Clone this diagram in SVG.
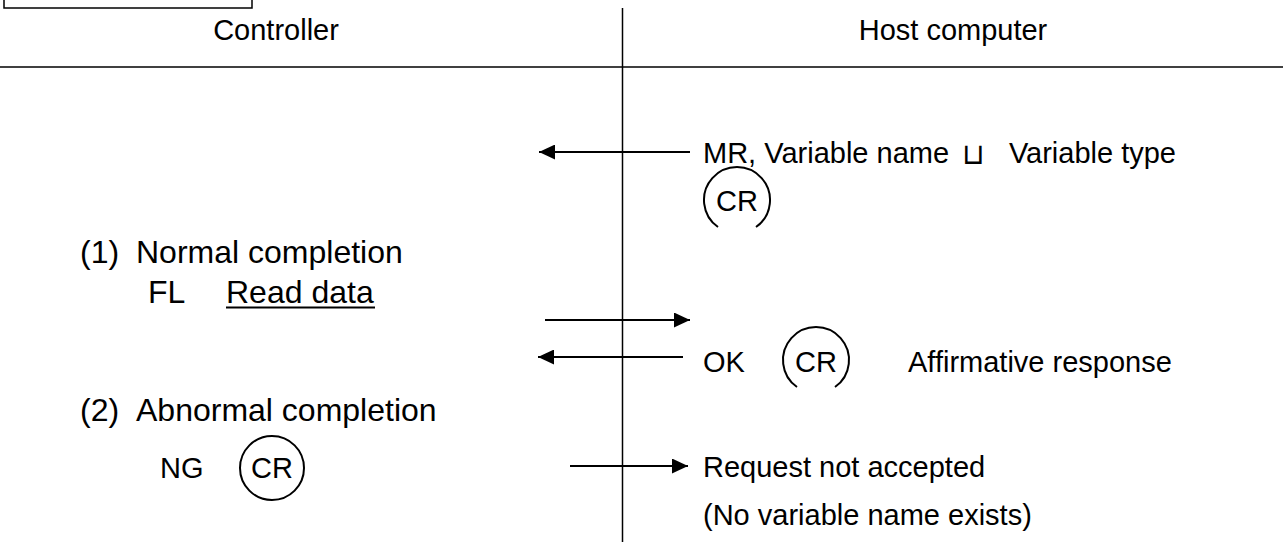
<svg xmlns="http://www.w3.org/2000/svg" width="1283" height="542" viewBox="0 0 1283 542">
<style>
text{font-family:"Liberation Sans",Arial,sans-serif;font-size:29px;fill:#000}
.big{font-size:32px}
.ln{stroke:#000;stroke-width:1.5;fill:none}
.ar{stroke:#000;stroke-width:2;fill:none;marker-end:url(#ah)}
.cr{stroke:#000;stroke-width:2;fill:none}
</style>
<defs>
<marker id="ah" markerWidth="16" markerHeight="15" refX="16" refY="7.5" orient="auto" markerUnits="userSpaceOnUse">
<path d="M0,0 L16,7.5 L0,15 Z" fill="#000"/>
</marker>
</defs>
<g id="frame">
<rect x="4" y="-10" width="248" height="18" class="ln"/>
<line x1="622.5" y1="8" x2="622.5" y2="542" class="ln"/>
<line x1="0" y1="67" x2="1283" y2="67" class="ln"/>
<text x="276" y="40" text-anchor="middle" font-size="30">Controller</text>
<text x="953" y="40" text-anchor="middle" font-size="30">Host computer</text>
</g>
<g id="connectors">
<line x1="690" y1="152" x2="539" y2="152" class="ar"/>
<line x1="545" y1="320" x2="690" y2="320" class="ar"/>
<line x1="683" y1="357" x2="538" y2="357" class="ar"/>
<line x1="570" y1="466" x2="688" y2="466" class="ar"/>
</g>
<g id="request">
<text x="703" y="163">MR, Variable name</text>
<text x="973" y="164" text-anchor="middle" font-family="DejaVu Sans" font-size="34" font-weight="200">⊔</text>
<text x="1176" y="163" text-anchor="end">Variable type</text>
<path d="M718,227 A33,33 0 1 1 756,227" class="cr"/>
<text x="737" y="211" text-anchor="middle">CR</text>
</g>
<g id="normal">
<text x="80" y="263" class="big">(1)</text>
<text x="136" y="263" class="big">Normal completion</text>
<text x="148" y="303" class="big">FL</text>
<text x="226" y="303" class="big">Read data</text>
<line x1="226" y1="307.5" x2="375" y2="307.5" stroke="#000" stroke-width="2"/>
</g>
<g id="ok">
<text x="703" y="372">OK</text>
<path d="M797,387 A33,33 0 1 1 835,387" class="cr"/>
<text x="816" y="372" text-anchor="middle">CR</text>
<text x="908" y="372">Affirmative response</text>
</g>
<g id="abnormal">
<text x="80" y="421" class="big">(2)</text>
<text x="136" y="421" class="big">Abnormal completion</text>
<text x="160" y="478">NG</text>
<circle cx="272" cy="468" r="32" class="cr"/>
<text x="272" y="478" text-anchor="middle">CR</text>
</g>
<g id="reject">
<text x="703" y="477">Request not accepted</text>
<text x="703" y="525">(No variable name exists)</text>
</g>
</svg>
